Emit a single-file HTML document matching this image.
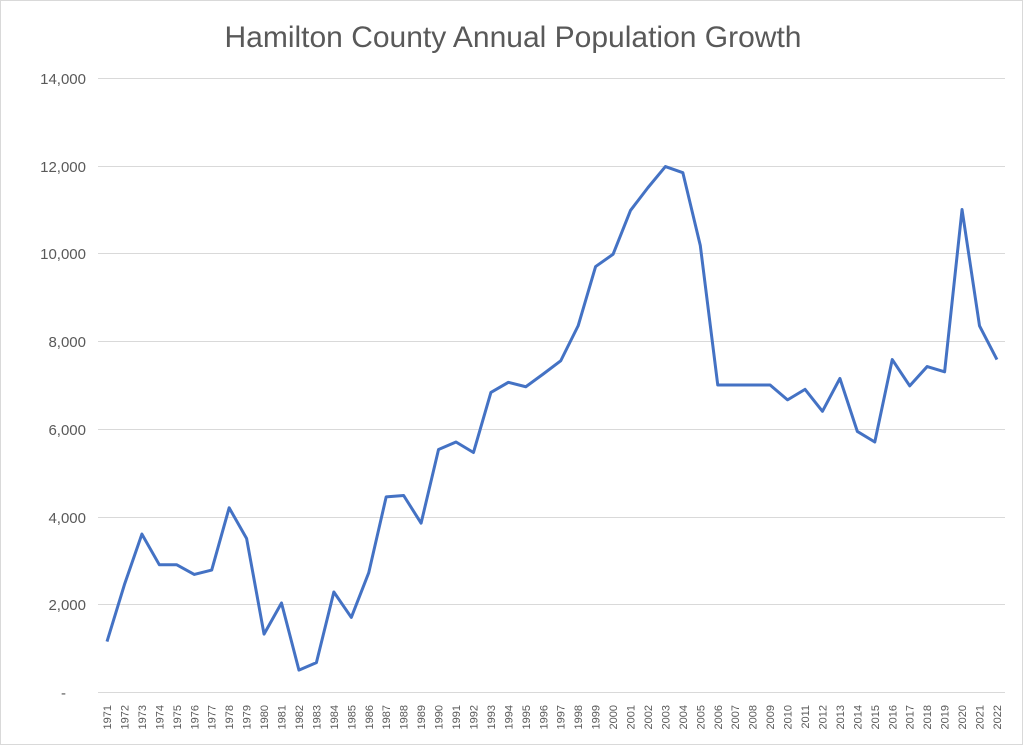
<!DOCTYPE html>
<html><head><meta charset="utf-8"><style>
body{margin:0;background:#fff}
svg{display:block;font-family:"Liberation Sans",sans-serif}
</style></head><body>
<svg width="1023" height="745" xmlns="http://www.w3.org/2000/svg">
<rect x="0.5" y="0.5" width="1022" height="744" fill="#fff" stroke="#d9d9d9"/>
<text x="513" y="47" text-anchor="middle" font-size="30" fill="#595959">Hamilton County Annual Population Growth</text>
<g stroke="#d9d9d9" stroke-width="1">
<line x1="98" x2="1005" y1="78.5" y2="78.5"/>
<line x1="98" x2="1005" y1="166.5" y2="166.5"/>
<line x1="98" x2="1005" y1="253.5" y2="253.5"/>
<line x1="98" x2="1005" y1="341.5" y2="341.5"/>
<line x1="98" x2="1005" y1="429.5" y2="429.5"/>
<line x1="98" x2="1005" y1="517.5" y2="517.5"/>
<line x1="98" x2="1005" y1="604.5" y2="604.5"/>
<line x1="98" x2="1005" y1="692.5" y2="692.5"/>
</g>
<g font-size="15" fill="#595959" text-anchor="end">
<text x="86" y="84">14,000</text>
<text x="86" y="172">12,000</text>
<text x="86" y="259">10,000</text>
<text x="86" y="347">8,000</text>
<text x="86" y="435">6,000</text>
<text x="86" y="523">4,000</text>
<text x="86" y="610">2,000</text>
<text x="66" y="698">-</text>
</g>
<polyline fill="none" stroke="#4472c4" stroke-width="3" stroke-linejoin="round" vector-effect="non-scaling-stroke"
transform="translate(107,692) scale(17.45,-0.04386)"
points="0,1150 1,2450 2,3600 3,2900 4,2900 5,2680 6,2780 7,4200 8,3500 9,1320 10,2030 11,500 12,670 13,2280 14,1700 15,2720 16,4450 17,4480 18,3850 19,5530 20,5700 21,5460 22,6830 23,7060 24,6960 25,7250 26,7550 27,8350 28,9700 29,9980 30,10980 31,11500 32,11980 33,11840 34,10180 35,7000 36,7000 37,7000 38,7000 39,6660 40,6900 41,6400 42,7150 43,5940 44,5700 45,7580 46,6980 47,7420 48,7300 49,11000 50,8350 51,7580"/>
<g font-size="11" fill="#595959" text-anchor="end" id="xl">
<text transform="translate(111,705) rotate(-90)">1971</text>
<text transform="translate(128.45,705) rotate(-90)">1972</text>
<text transform="translate(145.9,705) rotate(-90)">1973</text>
<text transform="translate(163.35,705) rotate(-90)">1974</text>
<text transform="translate(180.8,705) rotate(-90)">1975</text>
<text transform="translate(198.25,705) rotate(-90)">1976</text>
<text transform="translate(215.7,705) rotate(-90)">1977</text>
<text transform="translate(233.15,705) rotate(-90)">1978</text>
<text transform="translate(250.6,705) rotate(-90)">1979</text>
<text transform="translate(268.05,705) rotate(-90)">1980</text>
<text transform="translate(285.5,705) rotate(-90)">1981</text>
<text transform="translate(302.95,705) rotate(-90)">1982</text>
<text transform="translate(320.4,705) rotate(-90)">1983</text>
<text transform="translate(337.85,705) rotate(-90)">1984</text>
<text transform="translate(355.3,705) rotate(-90)">1985</text>
<text transform="translate(372.75,705) rotate(-90)">1986</text>
<text transform="translate(390.2,705) rotate(-90)">1987</text>
<text transform="translate(407.65,705) rotate(-90)">1988</text>
<text transform="translate(425.1,705) rotate(-90)">1989</text>
<text transform="translate(442.55,705) rotate(-90)">1990</text>
<text transform="translate(460,705) rotate(-90)">1991</text>
<text transform="translate(477.45,705) rotate(-90)">1992</text>
<text transform="translate(494.9,705) rotate(-90)">1993</text>
<text transform="translate(512.35,705) rotate(-90)">1994</text>
<text transform="translate(529.8,705) rotate(-90)">1995</text>
<text transform="translate(547.25,705) rotate(-90)">1996</text>
<text transform="translate(564.7,705) rotate(-90)">1997</text>
<text transform="translate(582.15,705) rotate(-90)">1998</text>
<text transform="translate(599.6,705) rotate(-90)">1999</text>
<text transform="translate(617.05,705) rotate(-90)">2000</text>
<text transform="translate(634.5,705) rotate(-90)">2001</text>
<text transform="translate(651.95,705) rotate(-90)">2002</text>
<text transform="translate(669.4,705) rotate(-90)">2003</text>
<text transform="translate(686.85,705) rotate(-90)">2004</text>
<text transform="translate(704.3,705) rotate(-90)">2005</text>
<text transform="translate(721.75,705) rotate(-90)">2006</text>
<text transform="translate(739.2,705) rotate(-90)">2007</text>
<text transform="translate(756.65,705) rotate(-90)">2008</text>
<text transform="translate(774.1,705) rotate(-90)">2009</text>
<text transform="translate(791.55,705) rotate(-90)">2010</text>
<text transform="translate(809,705) rotate(-90)">2011</text>
<text transform="translate(826.45,705) rotate(-90)">2012</text>
<text transform="translate(843.9,705) rotate(-90)">2013</text>
<text transform="translate(861.35,705) rotate(-90)">2014</text>
<text transform="translate(878.8,705) rotate(-90)">2015</text>
<text transform="translate(896.25,705) rotate(-90)">2016</text>
<text transform="translate(913.7,705) rotate(-90)">2017</text>
<text transform="translate(931.15,705) rotate(-90)">2018</text>
<text transform="translate(948.6,705) rotate(-90)">2019</text>
<text transform="translate(966.05,705) rotate(-90)">2020</text>
<text transform="translate(983.5,705) rotate(-90)">2021</text>
<text transform="translate(1000.95,705) rotate(-90)">2022</text>
</g>
</svg>
</body></html>
